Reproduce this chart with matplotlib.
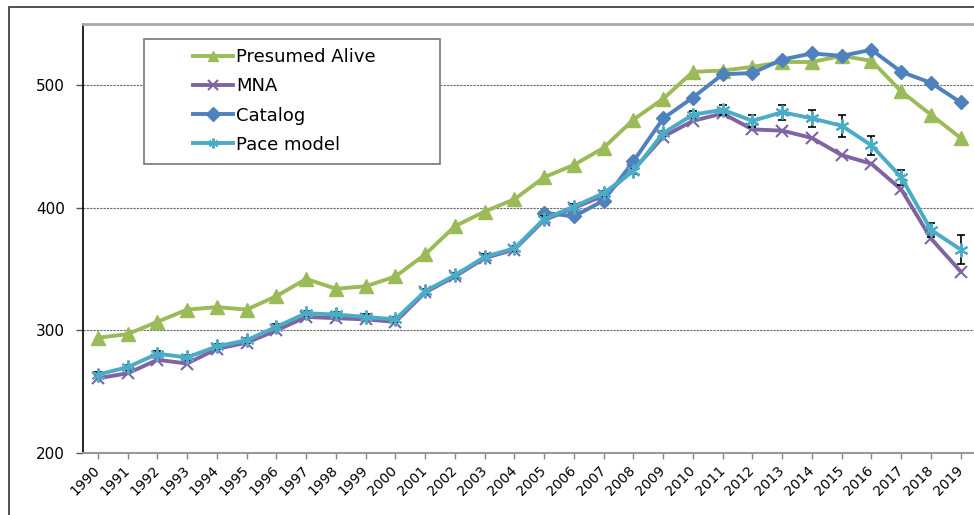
import numpy as np
import matplotlib
matplotlib.use("Agg")
import matplotlib.pyplot as plt
from matplotlib.patches import Rectangle

years = list(range(1990, 2020))
presumed = [294, 297, 307, 317, 319, 317, 328, 342, 334, 336, 344, 362, 385, 397, 407,
            425, 435, 449, 472, 489, 511, 512, 515, 519, 519, 524, 520, 495, 476, 457]
mna = [261, 265, 276, 273, 285, 290, 300, 311, 310, 309, 307, 331, 344, 359, 366,
       390, 400, 410, 431, 458, 471, 477, 464, 463, 457, 443, 436, 415, 375, 348]
catalog_years = list(range(2005, 2020))
catalog = [396, 393, 406, 438, 473, 490, 509, 510, 521, 526, 524, 529, 511, 502, 486]
pace = [264, 270, 281, 278, 287, 292, 303, 314, 313, 311, 309, 332, 345, 360, 367,
        391, 401, 412, 430, 461, 476, 480, 471, 478, 473, 467, 451, 425, 382, 366]
pace_err = [2, 2, 2, 2, 2, 2, 2, 2, 2, 2, 2, 2, 2, 2, 2,
            2, 2, 2, 2, 2, 3, 4, 5, 6, 7, 9, 8, 6, 6, 12]

plt.rcParams['font.family'] = ['DejaVu Sans']

fig = plt.figure(figsize=(9.74, 5.15), dpi=100)
ax = fig.add_axes([83/974, 62/515, 892.6/974, 429/515])

green = '#9BBB59'
purple = '#8064A2'
blue = '#4F81BD'
cyan = '#4BACC6'

ax.plot(years, presumed, color=green, lw=2.8, marker='^', ms=10, label='Presumed Alive', zorder=3)
ax.plot(years, mna, color=purple, lw=2.8, marker='x', ms=9, mew=1.5, label='MNA', zorder=4)
ax.plot(catalog_years, catalog, color=blue, lw=2.8, marker='D', ms=7.5, label='Catalog', zorder=5)
ax.errorbar(years, pace, yerr=pace_err, fmt='none', ecolor='black', elinewidth=1.2,
            capsize=3, capthick=1.2, zorder=6)
ax.plot(years, pace, color=cyan, lw=2.8, marker=(6, 2, 0), ms=10, mew=1.5, label='Pace model', zorder=7)

ax.set_xlim(1989.5, 2019.5)
ax.set_ylim(200, 550)
ax.set_yticks([200, 300, 400, 500])
ax.set_xticks(years)
ax.set_xticklabels([str(y) for y in years], rotation=45, ha='right', va='center',
                   rotation_mode='anchor', fontsize=10)
ax.tick_params(axis='y', labelsize=11, length=5, width=1, pad=8, color='#555555')
ax.tick_params(axis='x', length=4, width=1, pad=7, color='#888888')

ax.yaxis.grid(True, linestyle=(0, (2, 1)), color='#666666', lw=0.8)
ax.set_axisbelow(True)

ax.spines['left'].set_color('black')
ax.spines['left'].set_linewidth(1.2)
ax.spines['bottom'].set_color('#999999')
ax.spines['bottom'].set_linewidth(1.5)
ax.spines['top'].set_color('#aaaaaa')
ax.spines['top'].set_linewidth(2)
ax.spines['right'].set_visible(False)

# legend box drawn separately so the wide inner margins match
fig.add_artist(Rectangle((144/974, 1 - 164/515), 296/974, 125/515, fc='white',
                         ec='#777777', lw=1.2, transform=fig.transFigure, zorder=8))
leg = ax.legend(loc='center left', bbox_to_anchor=(193/974, 1 - 101/515),
                bbox_transform=fig.transFigure,
                fontsize=13, frameon=False,
                handlelength=2.2, handletextpad=0.2, borderpad=0, labelspacing=0.62,
                borderaxespad=0)
leg.set_zorder(9)
fig.add_artist(leg)
for h in leg.legend_handles:
    h.set_markersize(7)

fig.add_artist(Rectangle((9/974, -0.1), 1.2, (515 - 7)/515 + 0.1, fill=False,
                         ec='#333333', lw=1.2, transform=fig.transFigure))

fig.savefig('out.png', dpi=100)
